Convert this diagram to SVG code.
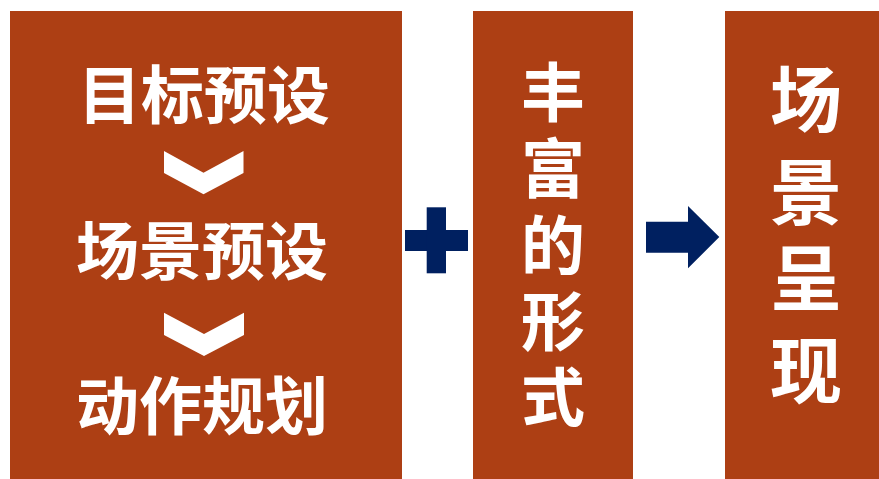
<svg xmlns="http://www.w3.org/2000/svg" width="879" height="479" viewBox="0 0 879 479">
<style>
.box{fill:#AD3F14}
.t{fill:#FFFFFF;font-family:"Noto Sans CJK SC","Noto Sans",sans-serif;font-weight:bold;text-anchor:middle}
.l{font-size:63px}
.m{font-size:64px}
.r{font-size:72px}
.navy{fill:#002060}
.chev{fill:#FFFFFF}
</style>
<rect width="879" height="479" fill="#FFFFFF"/>
<g id="node-left">
<rect class="box" x="10" y="11" width="392" height="468"/>
<text class="t l" x="204" y="118">目标预设</text>
<polygon class="chev" points="164,151 203.5,172.7 243.5,151 243.5,173 203.5,194.3 164,173"/>
<text class="t l" x="202" y="274">场景预设</text>
<polygon class="chev" points="164,312.7 204,334 244,312.7 244,335 204,356 164,335"/>
<text class="t l" x="202" y="429">动作规划</text>
</g>
<g id="node-plus">
<rect class="navy" x="405" y="230" width="63" height="21"/>
<rect class="navy" x="426.7" y="207.3" width="19.3" height="66"/>
</g>
<g id="node-middle">
<rect class="box" x="473" y="11" width="160" height="468"/>
<text class="t m" x="553" y="116">丰</text>
<text class="t m" x="553" y="192">富</text>
<text class="t m" x="553" y="269">的</text>
<text class="t m" x="553" y="345">形</text>
<text class="t m" x="553" y="421">式</text>
</g>
<g id="connectors">
<polygon class="navy" points="646,221.7 688,221.7 688,206 719.3,237 688,268.3 688,252.7 646,252.7"/>
</g>
<g id="node-right">
<rect class="box" x="725" y="11" width="154" height="468"/>
<text class="t r" x="806" y="126">场</text>
<text class="t r" x="806" y="219">景</text>
<text class="t r" x="806" y="305">呈</text>
<text class="t r" x="806" y="397">现</text>
</g>
</svg>
